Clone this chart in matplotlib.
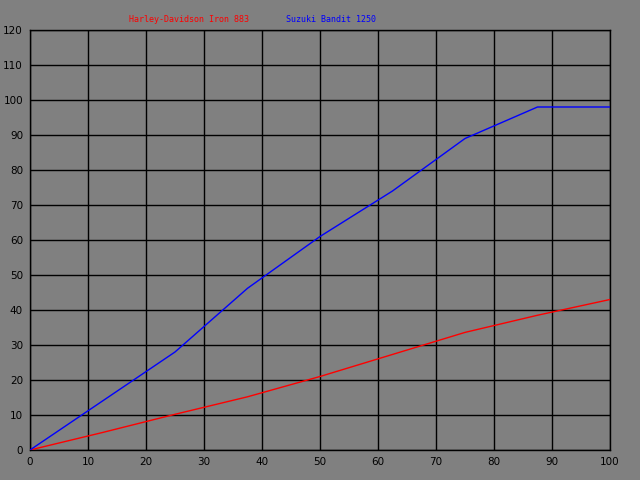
import matplotlib

matplotlib.use("Agg")

import matplotlib.pyplot as plt

# x positions shared by both series
speed = [0, 12.5, 25, 37.5, 50, 62.5, 75, 87.5, 100]
harley = [0, 5, 10.2, 15.2, 21, 27.3, 33.6, 38.5, 43]
suzuki = [0, 14, 28, 46.2, 61, 74, 89, 98, 98]

series_names = ["Harley-Davidson Iron 883", "Suzuki Bandit 1250"]
series_colors = ["#ff0000", "#0000ff"]

x_ticks = list(range(0, 101, 10))
y_ticks = list(range(0, 121, 10))

bg = "#808080"

fig = plt.figure(figsize=(6.4, 4.8), dpi=100, facecolor=bg)
ax = fig.add_axes([30 / 640, 30 / 480, 580 / 640, 420 / 480])
ax.set_facecolor(bg)

for ys, c in zip([harley, suzuki], series_colors):
    ax.plot(speed, ys, color=c, linewidth=1.0, zorder=3, solid_capstyle="butt")

ax.set_xlim(0, 100)
ax.set_ylim(0, 120)
ax.set_xticks(x_ticks)
ax.set_yticks(y_ticks)
ax.grid(True, color="black", linewidth=1.0)
ax.set_axisbelow(True)
for s in ax.spines.values():
    s.set_color("black")
    s.set_linewidth(1.0)
ax.tick_params(length=0, labelsize=7.5, colors="black", pad=5)

# series labels across the top
label_x = [189 / 640, 331 / 640]
for name, c, lx in zip(series_names, series_colors, label_x):
    fig.text(lx, 1 - 19 / 480, name, color=c, ha="center", va="center",
             family="DejaVu Sans Mono", fontsize=6.0)

fig.savefig("out.png", dpi=100, facecolor=bg)
